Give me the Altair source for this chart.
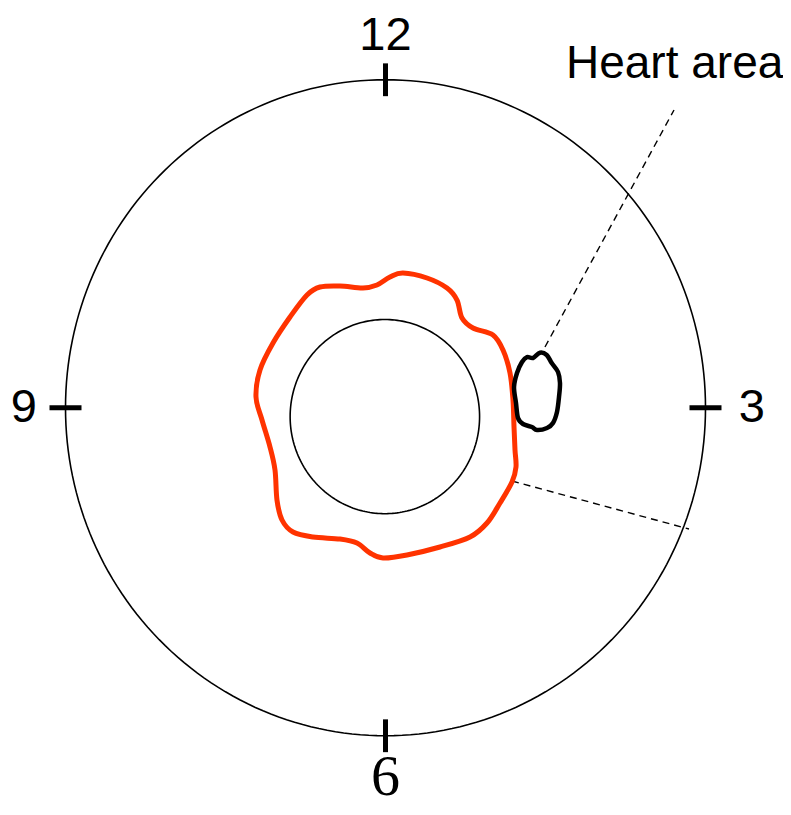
import altair as alt
import pandas as pd
import numpy as np

# ---- data (units: outer circle radius = 100, centre at 0,0) ----
clock_labels = ["12", "3", "6", "9"]
clock_angles = [0, 90, 180, 270]          # degrees, clockwise from 12 o'clock
label_radii = [113.2, 114.5, 113.0, 113.0]
tick_inner, tick_outer = 95, 105

outer_radius = 100
inner_center = (-0.2, -2.7)
inner_radius = 29.6

contour_x = [5.47, 12.97, 19.22, 22.34, 23.91, 27.34, 33.59, 36.72, 38.91, 39.84,
             40.16, 40.47, 40.78, 39.53, 35.78, 31.72, 26.41, 17.03, 6.72, -0.78,
             -4.84, -8.91, -14.22, -22.66, -28.91, -32.34, -33.91, -34.53, -36.09, -38.59,
             -40.47, -39.22, -35.16, -29.84, -24.53, -20.47, -14.22, -7.03, -2.66, 1.41]
contour_y = [41.08, 39.56, 36.51, 32.85, 27.36, 24.31, 22.18, 17.61, 10.59, 2.36,
             -5.87, -12.88, -18.06, -22.64, -29.04, -35.14, -39.41, -42.45, -44.89, -45.81,
             -44.28, -41.23, -40.02, -39.41, -37.88, -34.22, -28.13, -18.98, -11.97, -3.73,
             3.28, 11.51, 19.74, 27.67, 34.38, 36.81, 37.12, 36.51, 37.42, 39.86]

heart_x = [48.28, 50.38, 51.94, 53.91, 54.53, 54.22, 53.59, 52.34, 50.47, 47.34,
           45.78, 42.97, 41.41, 40.78, 40.16, 41.09, 42.66, 44.22, 46.09]
heart_y = [16.78, 16.08, 13.64, 10.90, 7.55, 3.28, -1.30, -4.65, -6.17, -6.78,
           -5.87, -4.95, -3.13, 1.45, 6.33, 10.59, 13.95, 15.47, 15.17]

leader_x1 = [49.84, 39.53]
leader_y1 = [18.52, -22.33]
leader_x2 = [90.16, 94.84]
leader_y2 = [90.78, -36.97]

annotation_text = "Heart area"
annotation_x, annotation_y = 56.4, 104.8

# ---- build tables ----
def circle_df(cx, cy, r, n=240):
    t = np.linspace(0, 2 * np.pi, n + 1)
    return pd.DataFrame({"x": cx + r * np.sin(t), "y": cy + r * np.cos(t), "o": np.arange(n + 1)})

outer_df = circle_df(0, 0, outer_radius)
inner_df = circle_df(inner_center[0], inner_center[1], inner_radius)

rad = np.deg2rad(clock_angles)
lr = np.array(label_radii)
ticks_df = pd.DataFrame({
    "x": tick_inner * np.sin(rad), "y": tick_inner * np.cos(rad),
    "x2": tick_outer * np.sin(rad), "y2": tick_outer * np.cos(rad),
})
labels_df = pd.DataFrame({
    "label": clock_labels,
    "x": lr * np.sin(rad), "y": lr * np.cos(rad),
})
contour_df = pd.DataFrame({"x": contour_x, "y": contour_y, "o": range(len(contour_x))})
heart_df = pd.DataFrame({"x": heart_x, "y": heart_y, "o": range(len(heart_x))})
leader_df = pd.DataFrame({"x": leader_x1, "y": leader_y1, "x2": leader_x2, "y2": leader_y2})
annot_df = pd.DataFrame({"label": [annotation_text], "x": [annotation_x], "y": [annotation_y]})

W, H = 775, 799
xs = alt.Scale(domain=[-117.97, 124.22], nice=False, zero=False)
ys = alt.Scale(domain=[-121.72, 121.88], nice=False, zero=False)
X = lambda f="x": alt.X(f"{f}:Q", scale=xs, axis=None)
Y = lambda f="y": alt.Y(f"{f}:Q", scale=ys, axis=None)

outer = alt.Chart(outer_df).mark_line(color="black", strokeWidth=1.6).encode(
    x=X(), y=Y(), order="o:Q")
inner = alt.Chart(inner_df).mark_line(color="black", strokeWidth=1.6).encode(
    x=X(), y=Y(), order="o:Q")
ticks = alt.Chart(ticks_df).mark_rule(color="black", strokeWidth=5).encode(
    x=X(), y=Y(), x2="x2:Q", y2="y2:Q")
leaders = alt.Chart(leader_df).mark_rule(color="black", strokeWidth=1.4, strokeDash=[7, 5]).encode(
    x=X(), y=Y(), x2="x2:Q", y2="y2:Q")
contour = alt.Chart(contour_df).mark_line(
    color="#ff3300", strokeWidth=5, interpolate="cardinal-closed").encode(
    x=X(), y=Y(), order="o:Q")
heart = alt.Chart(heart_df).mark_line(
    color="black", strokeWidth=4.5, interpolate="cardinal-closed").encode(
    x=X(), y=Y(), order="o:Q")

sans_labels = alt.Chart(labels_df).transform_filter("datum.label != '6'").mark_text(
    font="Liberation Sans", fontSize=47, align="center", baseline="middle", color="black").encode(
    x=X(), y=Y(), text="label:N")
serif_labels = alt.Chart(labels_df).transform_filter("datum.label == '6'").mark_text(
    font="Liberation Serif", fontSize=58, align="center", baseline="middle", color="black").encode(
    x=X(), y=Y(), text="label:N")
annot = alt.Chart(annot_df).mark_text(
    font="Liberation Sans", fontSize=46, align="left", baseline="middle", color="black").encode(
    x=X(), y=Y(), text="label:N")

chart = alt.layer(outer, inner, leaders, ticks, contour, heart, sans_labels, serif_labels, annot).properties(
    width=W, height=H, padding=0, autosize=alt.AutoSizeParams(type="none")
).configure_view(stroke=None)

chart.save("out.html", embed_options={"renderer": "svg", "actions": False})
